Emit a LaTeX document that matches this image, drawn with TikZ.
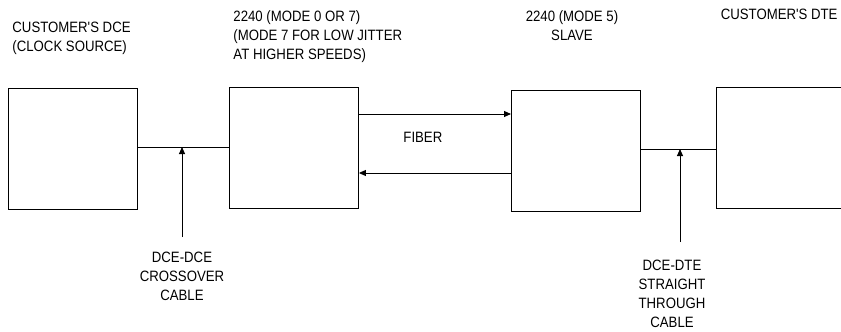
\documentclass[tikz,border=0pt]{standalone}
\usepackage{fontspec}
\setmainfont{Liberation Sans}[FakeStretch=0.88, Ligatures=TeXOff]
\usetikzlibrary{arrows.meta}

\begin{document}
\begin{tikzpicture}[x=1pt, y=-1pt, line width=0.9pt,
    unit/.style={draw, inner sep=0, anchor=north west, minimum width=129pt, minimum height=121pt},
    txt/.style={inner sep=0, font=\fontsize{15}{19}\selectfont},
    tip/.style={-{Triangle[length=7pt, width=6pt]}}]
                \useasboundingbox (0,0) rectangle (841,332);
                \clip (0,0) rectangle (841,332);

                % Units
                \node[unit] (dce) at (8,88) {};
                \node[unit] (master) at (229,87) {};
                \node[unit] (slave) at (511,90) {};
                \node[unit] (dte) at (716,87) {};

                % Titles
                \node[txt, anchor=north west, align=left] (dceTxt) at (12,22) {CUSTOMER'S DCE\\(CLOCK SOURCE)};
                \node[txt, anchor=north west, align=left] (masterTxt) at (233,10) {2240 (MODE 0 OR 7)\\(MODE 7 FOR LOW JITTER\\AT HIGHER SPEEDS)};
                \node[txt, anchor=north, align=center] (slaveTxt) at (572,10) {2240 (MODE 5)\\SLAVE};
                \node[txt, anchor=north east] (dteTxt) at (838,9) {CUSTOMER'S DTE};

                % Fiber
                \draw[tip] (master.east |- 0,114) -- (slave.west |- 0,114);
                \draw[tip] (slave.west |- 0,173) -- (master.east |- 0,173);
                \node[txt, anchor=north west] (fiberTxt) at (403,132) {FIBER};

                % Cables
                \coordinate (cab1) at (182,147);
                \coordinate (tail1) at (182,237);
                \draw (dce.east |- cab1) -- (master.west |- cab1);
                \draw[tip] (tail1) -- (cab1);
                \node[txt, anchor=north, align=center] (cab1Txt) at (182,252) {DCE-DCE\\CROSSOVER\\CABLE};

                \coordinate (cab2) at (680,149);
                \coordinate (tail2) at (680,242);
                \draw (slave.east |- cab2) -- (dte.west |- cab2);
                \draw[tip] (tail2) -- (cab2);
                \node[txt, anchor=north, align=center] (cab2Txt) at (672,260) {DCE-DTE\\STRAIGHT\\THROUGH\\CABLE};
            \end{tikzpicture}
\end{document}
